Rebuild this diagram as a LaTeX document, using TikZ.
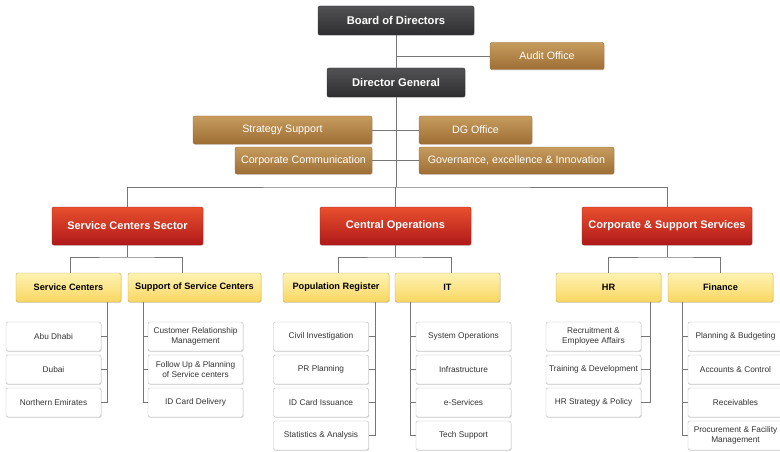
\documentclass[tikz,border=0pt]{standalone}
\usepackage{fontspec}
\setmainfont{Liberation Sans}
\usepackage{tikz}
\usetikzlibrary{shadows}
\definecolor{darktop}{HTML}{525254}
\definecolor{darkbot}{HTML}{2E2E30}
\definecolor{browntop}{HTML}{C69C5E}
\definecolor{brownbot}{HTML}{9E6E34}
\definecolor{redtop}{HTML}{E8502E}
\definecolor{redbot}{HTML}{B0181A}
\definecolor{yeltop}{HTML}{FFF3B4}
\definecolor{yelbot}{HTML}{F8D660}
\definecolor{linegray}{HTML}{767676}
\definecolor{boxline}{HTML}{B8B8B8}

\begin{document}
\begin{tikzpicture}[x=1pt,y=-1pt,
  box/.style={rectangle,rounded corners=2pt,inner sep=0pt,align=center,
    drop shadow={opacity=0.3,shadow xshift=0.6pt,shadow yshift=-0.9pt}},
  board/.style={box,draw=darkbot,top color=darktop,bottom color=darkbot,text=white,
    font=\bfseries\fontsize{11.2}{13}\selectfont,minimum height=29pt},
  staff/.style={box,draw=brownbot,top color=browntop,bottom color=brownbot,text=white,
    font=\fontsize{10.7}{12}\selectfont,minimum height=27pt},
  sector/.style={box,draw=redbot,top color=redtop,bottom color=redbot,text=white,
    font=\bfseries\fontsize{11}{13}\selectfont,minimum height=38pt},
  dept/.style={box,draw=yelbot!80!black,top color=yeltop,bottom color=yelbot,text=black,
    font=\bfseries\fontsize{9.2}{11}\selectfont,minimum height=29pt},
  unit/.style={box,draw=boxline,fill=white,text=black!80,
    font=\fontsize{8.3}{9.6}\selectfont,minimum width=95pt,minimum height=29pt},
  link/.style={draw=linegray,line width=0.9pt}]
\useasboundingbox (0,0) rectangle (780,452);
\node[board,minimum width=156pt] (bod) at (396,20.5) {Board of Directors};
\node[staff,minimum width=114pt] (audit) at (547,56) {Audit Office};
\node[board,minimum width=138pt] (dg) at (396,82.5) {Director General};
\node[staff,minimum width=179pt,minimum height=28pt] (strategy) at (282.5,130) {Strategy Support};
\node[staff,minimum width=113pt,minimum height=28pt] (dgoffice) at (475.5,130) {DG Office};
\node[staff,minimum width=137pt] (corpcomm) at (303.5,160.5) {Corporate Communication};
\node[staff,minimum width=195pt] (governance) at (516.5,160.5) {Governance, excellence \& Innovation};
\coordinate (bus) at (396,187);
\node[sector,minimum width=151pt] (scs) at (127.5,226) {Service Centers Sector};
\node[sector,minimum width=151pt] (centralops) at (395.5,226) {Central Operations};
\node[sector,minimum width=170pt] (corpsupport) at (667,226) {Corporate \& Support Services};
\coordinate (scsbus) at (127.5,257);
\coordinate (cobus) at (395.5,257);
\coordinate (csbus) at (667,257);
\node[dept,minimum width=105pt] (centers) at (68.5,287.5) {Service Centers};
\node[dept,minimum width=133pt] (support) at (194.5,287.5) {Support of Service Centers};
\node[dept,minimum width=106pt] (popreg) at (336,287.5) {Population Register};
\node[dept,minimum width=105pt] (it) at (447.5,287.5) {IT};
\node[dept,minimum width=105pt] (hr) at (608.5,287.5) {HR};
\node[dept,minimum width=105pt] (finance) at (720.5,287.5) {Finance};
\node[unit] (abudhabi) at (53.5,336.5) {Abu Dhabi};
\node[unit] (dubai) at (53.5,369.5) {Dubai};
\node[unit] (northern) at (53.5,402.5) {Northern Emirates};
\node[unit] (crm) at (195.5,336.5) {Customer Relationship\\Management};
\node[unit] (followup) at (195.5,369.5) {Follow Up \& Planning\\of Service centers};
\node[unit] (delivery) at (195.5,402.5) {ID Card Delivery};
\node[unit] (civil) at (321,336.5) {Civil Investigation};
\node[unit] (prplanning) at (321,369.5) {PR Planning};
\node[unit] (issuance) at (321,402.5) {ID Card Issuance};
\node[unit] (statistics) at (321,435.5) {Statistics \& Analysis};
\node[unit] (sysops) at (463.5,336.5) {System Operations};
\node[unit] (infra) at (463.5,369.5) {Infrastructure};
\node[unit] (eservices) at (463.5,402.5) {e-Services};
\node[unit] (techsupport) at (463.5,435.5) {Tech Support};
\node[unit] (recruitment) at (593.5,336.5) {Recruitment \&\\Employee Affairs};
\node[unit] (training) at (593.5,369.5) {Training \& Development};
\node[unit] (hrstrategy) at (593.5,402.5) {HR Strategy \& Policy};
\node[unit] (budgeting) at (735.5,336.5) {Planning \& Budgeting};
\node[unit] (accounts) at (735.5,369.5) {Accounts \& Control};
\node[unit] (receivables) at (735.5,402.5) {Receivables};
\node[unit] (procurement) at (735.5,435.5) {Procurement \& Facility\\Management};
\coordinate (centersrail) at (107,302);
\coordinate (supportrail) at (143,302);
\coordinate (popregrail) at (375,302);
\coordinate (itrail) at (410,302);
\coordinate (hrrail) at (650,302);
\coordinate (financerail) at (682,302);
\draw[link] (bod) -- (dg);
\draw[link] (bod.south |- audit.west) -- (audit.west);
\draw[link] (strategy.east) -- (dgoffice.west);
\draw[link] (corpcomm.east) -- (governance.west);
\draw[link] (dg.south) -- (bus);
\draw[link] (scs.north) |- (bus) -| (corpsupport.north);
\draw[link] (centralops.north) -- (centralops.north |- bus);
\draw[link] (scs.south) -- (scsbus);
\draw[link] ([xshift=1.5pt]centers.north) |- (scsbus) -| ([xshift=-12.5pt]support.north);
\draw[link] (centralops.south) -- (cobus);
\draw[link] ([xshift=2pt]popreg.north) |- (cobus) -| ([xshift=3.5pt]it.north);
\draw[link] (corpsupport.south) -- (csbus);
\draw[link] (hr.north) |- (csbus) -| (finance.north);
\draw[link] (centersrail) |- (abudhabi.east);
\draw[link] (centersrail) |- (dubai.east);
\draw[link] (centersrail) |- (northern.east);
\draw[link] (supportrail) |- (crm.west);
\draw[link] (supportrail) |- (followup.west);
\draw[link] (supportrail) |- (delivery.west);
\draw[link] (popregrail) |- (civil.east);
\draw[link] (popregrail) |- (prplanning.east);
\draw[link] (popregrail) |- (issuance.east);
\draw[link] (popregrail) |- (statistics.east);
\draw[link] (itrail) |- (sysops.west);
\draw[link] (itrail) |- (infra.west);
\draw[link] (itrail) |- (eservices.west);
\draw[link] (itrail) |- (techsupport.west);
\draw[link] (hrrail) |- (recruitment.east);
\draw[link] (hrrail) |- (training.east);
\draw[link] (hrrail) |- (hrstrategy.east);
\draw[link] (financerail) |- (budgeting.west);
\draw[link] (financerail) |- (accounts.west);
\draw[link] (financerail) |- (receivables.west);
\draw[link] (financerail) |- (procurement.west);
\end{tikzpicture}
\end{document}
